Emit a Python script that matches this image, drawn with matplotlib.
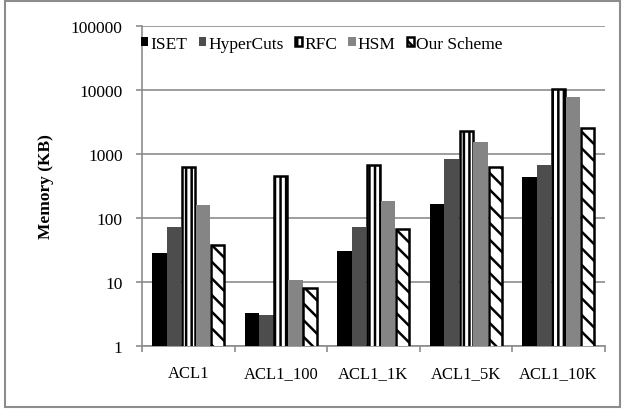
import matplotlib
matplotlib.use("Agg")
import matplotlib.pyplot as plt
from matplotlib.patches import Rectangle
import numpy as np

plt.rcParams['font.family'] = ['Liberation Serif', 'DejaVu Serif']
plt.rcParams['hatch.linewidth'] = 1.8

# memory usage per rule set (KB)
rulesets = ["ACL1", "ACL1_100", "ACL1_1K", "ACL1_5K", "ACL1_10K"]
schemes = ["ISET", "HyperCuts", "RFC", "HSM", "Our Scheme"]
iset = [28.5, 3.3, 30.6, 166, 441]
hypercuts = [72, 3.0, 71, 822, 663]
rfc = [615, 452, 670, 2285, 10400]
hsm = [160, 10.6, 187, 1540, 7900]
ours = [38, 7.9, 68, 624, 2573]

series = [iset, hypercuts, rfc, hsm, ours]
fills = ["black", "#4d4d4d", "white", "#858585", "white"]
hatches = [None, None, "|||", None, "\\\\"]

fig = plt.figure(figsize=(6.23, 4.10), dpi=100)
ax = fig.add_axes([0.228, 0.154, 0.743, 0.780])

x = np.arange(len(rulesets))
w = 0.157
for j, (vals, fc, h) in enumerate(zip(series, fills, hatches)):
    pos = x + (j - 2) * w
    if h is None:
        ax.bar(pos, vals, w, color=fc, linewidth=0, label=schemes[j], zorder=3)
    else:
        ax.bar(pos, vals, w * 0.9, color=fc, edgecolor="black", hatch=h,
               linewidth=1.8, label=schemes[j], zorder=3)

ax.set_yscale("log")
ax.set_ylim(1, 100000)
ax.set_xlim(-0.5, len(rulesets) - 0.5)
ax.set_yticks([1, 10, 100, 1000, 10000, 100000])
ax.set_yticklabels(["1", "10", "100", "1000", "10000", "100000"])
ax.yaxis.set_minor_locator(matplotlib.ticker.NullLocator())
ax.yaxis.grid(True, color="#8c8c8c", linewidth=1.2, zorder=0)

ax.set_xticks(x)
ax.set_xticklabels(rulesets)
ax.set_xticks(np.arange(-0.5, len(rulesets)), minor=True)
ax.tick_params(axis="x", which="major", length=0, pad=14, labelsize=12)
ax.tick_params(axis="x", which="minor", length=4, color="#8c8c8c", width=1.2)
ax.tick_params(axis="y", which="major", length=4, color="#8c8c8c", width=1.2,
               pad=10, labelsize=12.5)

for side in ["top", "right"]:
    ax.spines[side].set_visible(False)
for side in ["left", "bottom"]:
    ax.spines[side].set_color("#8c8c8c")
    ax.spines[side].set_linewidth(1.2)

ax.set_ylabel("Memory (KB)", fontsize=12.5, fontweight="bold", labelpad=12)

ax.legend(ncol=5, frameon=False, loc="center left",
          bbox_to_anchor=(-0.002, 0.945), fontsize=12.5,
          handlelength=0.42, handleheight=0.42, handletextpad=0.12,
          columnspacing=0.65, borderaxespad=0, borderpad=0)

fig.patches.append(Rectangle((0.008, 0.005), 0.987, 0.99,
                             transform=fig.transFigure, fill=False,
                             edgecolor="#8c8c8c", linewidth=1.5))

fig.savefig("out.png", dpi=100)
